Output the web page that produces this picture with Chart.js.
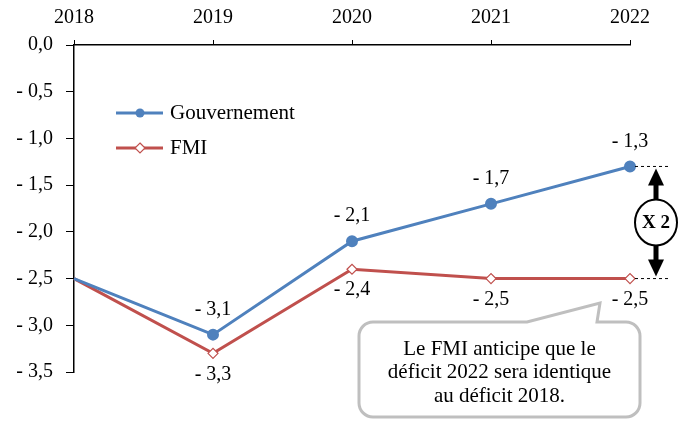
<!DOCTYPE html>
<html>
<head>
<meta charset="utf-8">
<script src="https://cdn.jsdelivr.net/npm/chart.js@4/dist/chart.umd.min.js"></script>
<style>
  html, body { margin: 0; padding: 0; background: #fff; }
  #wrap { width: 684px; height: 422px; position: relative; }
</style>
</head>
<body>
<div id="wrap"><canvas id="c" width="684" height="422"></canvas></div>
<script>
const years = ["2018", "2019", "2020", "2021", "2022"];
const gouvernement = [-2.5, -3.1, -2.1, -1.7, -1.3];
const fmi = [-2.5, -3.3, -2.4, -2.5, -2.5];
const calloutLines = ["Le FMI anticipe que le", "déficit 2022 sera identique", "au déficit 2018."];

const FONT = "'Liberation Serif', 'DejaVu Serif', serif";
const BLUE = "#4f81bd";
const RED = "#c0504d";

function fmt(v) {
  if (Math.abs(v) < 1e-9) return "0,0";
  return (v < 0 ? "- " : "") + Math.abs(v).toFixed(1).replace(".", ",");
}

// data labels, legend, arrow and callout
const extras = {
  id: "extras",
  afterDatasetsDraw(chart) {
    const ctx = chart.ctx;
    const x = chart.scales.x, y = chart.scales.y;
    ctx.save();
    ctx.font = "20px " + FONT;
    ctx.fillStyle = "#000";
    ctx.textAlign = "center";
    ctx.textBaseline = "middle";
    for (let i = 1; i < years.length; i++) {
      const px = x.getPixelForValue(i);
      ctx.fillText(fmt(gouvernement[i]), px, y.getPixelForValue(gouvernement[i]) - 25);
      ctx.fillText(fmt(fmi[i]), px, y.getPixelForValue(fmi[i]) + 21);
    }

    // legend
    const items = [[BLUE, "circle", "Gouvernement", 113], [RED, "rectRot", "FMI", 148]];
    ctx.font = "21px " + FONT;
    items.forEach(([col, shape, label, ly]) => {
      ctx.strokeStyle = col; ctx.lineWidth = 3;
      ctx.beginPath(); ctx.moveTo(116, ly); ctx.lineTo(163, ly); ctx.stroke();
      if (shape === "circle") {
        ctx.fillStyle = col;
        ctx.beginPath(); ctx.arc(140, ly, 4.5, 0, Math.PI * 2); ctx.fill();
      } else {
        ctx.fillStyle = "#fff"; ctx.lineWidth = 1.2;
        ctx.beginPath();
        ctx.moveTo(140, ly - 5); ctx.lineTo(145, ly); ctx.lineTo(140, ly + 5); ctx.lineTo(135, ly);
        ctx.closePath(); ctx.fill(); ctx.stroke();
      }
      ctx.fillStyle = "#000"; ctx.textAlign = "left";
      ctx.fillText(label, 170, ly);
    });

    // dashed guides from 2022
    const x22 = x.getPixelForValue(4);
    const yG = y.getPixelForValue(gouvernement[4]);
    const yF = y.getPixelForValue(fmi[4]);
    ctx.strokeStyle = "#000"; ctx.lineWidth = 1; ctx.setLineDash([3, 3]);
    ctx.beginPath();
    ctx.moveTo(x22 + 5, yG); ctx.lineTo(668, yG);
    ctx.moveTo(x22 + 5, yF); ctx.lineTo(668, yF);
    ctx.stroke();
    ctx.setLineDash([]);

    // double arrow
    const ax = 656, cy = (yG + yF) / 2;
    ctx.lineWidth = 5;
    ctx.beginPath();
    ctx.moveTo(ax, yG + 14); ctx.lineTo(ax, cy - 22);
    ctx.moveTo(ax, cy + 22); ctx.lineTo(ax, yF - 14);
    ctx.stroke();
    ctx.fillStyle = "#000";
    ctx.beginPath(); ctx.moveTo(ax, yG + 2); ctx.lineTo(ax - 8, yG + 19); ctx.lineTo(ax + 8, yG + 19); ctx.closePath(); ctx.fill();
    ctx.beginPath(); ctx.moveTo(ax, yF - 2); ctx.lineTo(ax - 8, yF - 19); ctx.lineTo(ax + 8, yF - 19); ctx.closePath(); ctx.fill();
    ctx.fillStyle = "#fff"; ctx.lineWidth = 2;
    ctx.beginPath(); ctx.ellipse(ax, cy, 21, 23, 0, 0, Math.PI * 2); ctx.fill(); ctx.stroke();
    ctx.fillStyle = "#000"; ctx.textAlign = "center";
    ctx.font = "bold 19px " + FONT;
    ctx.fillText("X 2", ax, cy + 1);

    // callout
    const bx = 359, by = 322, bw = 281, bh = 95, r = 14;
    ctx.strokeStyle = "#bfbfbf"; ctx.lineWidth = 3; ctx.fillStyle = "#fff";
    ctx.beginPath();
    ctx.moveTo(bx + r, by);
    ctx.lineTo(527, by);
    ctx.lineTo(600, 303);
    ctx.lineTo(597, by);
    ctx.lineTo(bx + bw - r, by);
    ctx.arcTo(bx + bw, by, bx + bw, by + r, r);
    ctx.lineTo(bx + bw, by + bh - r);
    ctx.arcTo(bx + bw, by + bh, bx + bw - r, by + bh, r);
    ctx.lineTo(bx + r, by + bh);
    ctx.arcTo(bx, by + bh, bx, by + bh - r, r);
    ctx.lineTo(bx, by + r);
    ctx.arcTo(bx, by, bx + r, by, r);
    ctx.closePath(); ctx.fill(); ctx.stroke();
    ctx.fillStyle = "#000"; ctx.font = "21px " + FONT;
    calloutLines.forEach((t, i) => ctx.fillText(t, bx + bw / 2, 349 + i * 23.5));
    ctx.restore();
  }
};

new Chart(document.getElementById("c"), {
  type: "line",
  data: {
    labels: years,
    datasets: [
      { label: "Gouvernement", data: gouvernement, borderColor: BLUE, backgroundColor: BLUE,
        borderWidth: 3, pointStyle: "circle", pointRadius: [0, 4.5, 4.5, 4.5, 4.5], tension: 0 },
      { label: "FMI", data: fmi, borderColor: RED, backgroundColor: "#fff",
        borderWidth: 3, pointBorderWidth: 1.2, pointStyle: "rectRot", pointRadius: [0, 5, 5, 5, 5], tension: 0 }
    ]
  },
  options: {
    responsive: false,
    animation: false,
    layout: { padding: { left: 0, right: 54, top: 0, bottom: 50 } },
    plugins: { legend: { display: false }, tooltip: { enabled: false } },
    scales: {
      x: {
        position: "top",
        offset: false,
        afterFit: s => { s.height = 45; },
        grid: { drawOnChartArea: false, drawTicks: true, tickLength: 5, color: "#000" },
        border: { color: "#000", width: 1.5 },
        ticks: { color: "#000", font: { family: FONT, size: 20 }, padding: 10, maxRotation: 0 }
      },
      y: {
        min: -3.5, max: 0,
        afterFit: s => { s.width = 74; },
        afterBuildTicks: s => { s.ticks = [0, -0.5, -1, -1.5, -2, -2.5, -3, -3.5].map(v => ({ value: v })); },
        grid: { drawOnChartArea: false, drawTicks: true, tickLength: 8, color: "#000" },
        border: { color: "#000", width: 1.5 },
        ticks: { color: "#000", font: { family: FONT, size: 20 }, padding: 13, callback: v => fmt(v) }
      }
    }
  },
  plugins: [extras]
});
</script>
</body>
</html>
